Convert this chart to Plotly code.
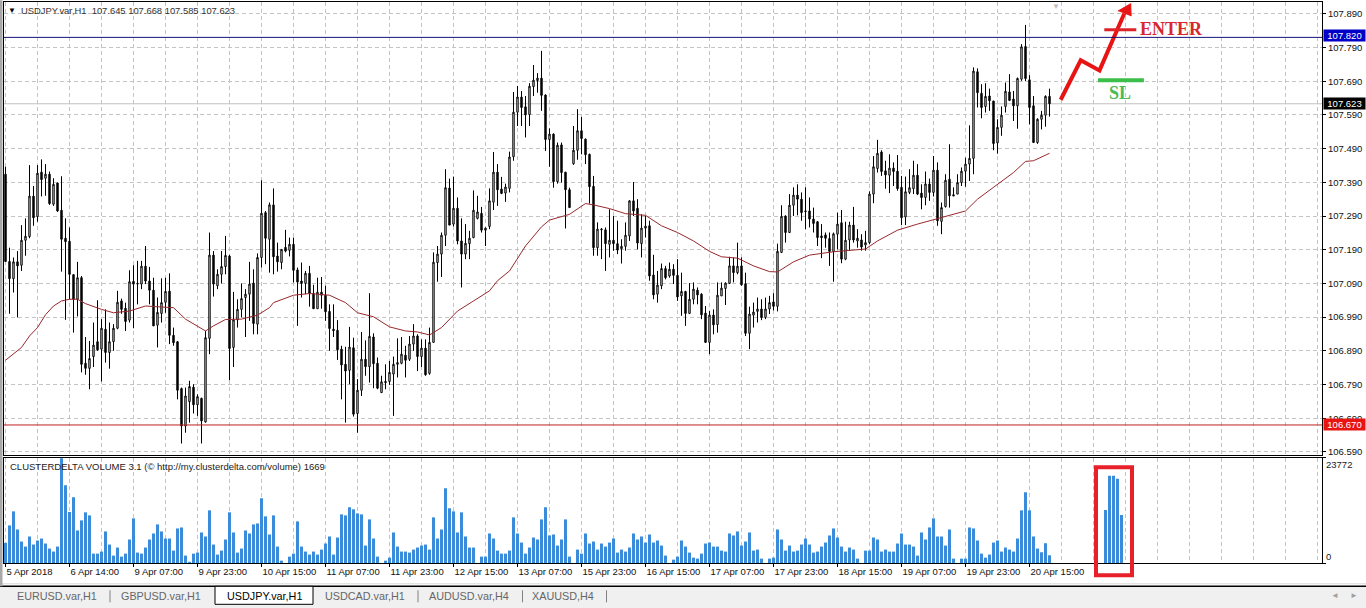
import plotly.graph_objects as go

# candles, one value per H1 bar
opens = [107.414,107.155,107.104,107.154,107.144,107.218,107.229,107.349,107.288,107.420,
107.402,107.414,107.325,107.388,107.307,107.224,107.215,107.116,107.043,107.107,
106.853,106.838,106.873,106.917,106.895,106.954,106.885,106.917,106.957,107.038,
107.016,106.981,107.096,107.088,107.088,107.141,107.097,107.070,106.966,107.001,
107.034,107.067,106.936,106.917,106.778,106.667,106.739,106.782,106.730,106.749,
106.679,106.927,107.174,107.083,107.117,107.140,107.171,106.900,106.982,107.013,
107.048,107.058,107.091,106.969,107.167,107.300,107.221,107.323,107.171,107.152,
107.197,107.188,107.206,107.130,107.097,107.090,107.120,107.060,107.015,107.064,
107.055,107.007,106.954,106.951,106.895,106.850,106.832,106.899,106.704,106.773,
106.865,106.843,106.931,106.853,106.766,106.799,106.799,106.821,106.850,106.853,
106.877,106.865,106.910,106.934,106.873,106.898,106.823,106.915,107.152,107.177,
107.233,107.373,107.266,107.313,107.216,107.177,107.208,107.226,107.283,107.298,
107.248,107.259,107.331,107.420,107.370,107.358,107.372,107.466,107.598,107.643,
107.614,107.591,107.674,107.692,107.699,107.649,107.517,107.533,107.392,107.501,
107.420,107.368,107.445,107.485,107.543,107.518,107.473,107.378,107.196,107.249,
107.249,107.206,107.218,107.208,107.193,107.200,107.231,107.335,107.313,107.208,
107.254,107.261,107.115,107.058,107.083,107.134,107.112,107.132,107.114,107.053,
107.066,107.001,107.043,107.070,107.058,107.002,106.915,106.996,106.968,107.053,
107.075,107.090,107.142,107.122,107.142,107.089,106.942,106.996,107.007,107.014,
106.989,107.014,107.035,107.022,107.182,107.290,107.241,107.322,107.352,107.340,
107.303,107.305,107.281,107.273,107.231,107.234,107.223,107.185,107.236,107.270,
107.162,107.219,107.263,107.216,107.219,107.204,107.211,107.355,107.431,107.480,
107.424,107.411,107.432,107.423,107.375,107.287,107.360,107.371,107.411,107.358,
107.345,107.385,107.360,107.426,107.274,107.318,107.399,107.353,107.355,107.389,
107.423,107.444,107.461,107.718,107.654,107.615,107.646,107.631,107.507,107.553,
107.615,107.658,107.637,107.617,107.696,107.793,107.694,107.617,107.508,107.577,
107.589,107.645]

highs = [107.436,107.196,107.167,107.186,107.263,107.283,107.441,107.379,107.441,107.458,
107.444,107.422,107.402,107.389,107.408,107.283,107.256,107.117,107.154,107.112,
106.931,106.919,106.974,107.040,106.984,107.013,106.974,106.969,107.068,107.045,
107.033,107.129,107.144,107.157,107.157,107.201,107.139,107.107,107.048,107.105,
107.107,107.120,106.959,106.919,106.781,106.781,106.801,106.791,106.761,106.751,
106.949,107.241,107.186,107.132,107.186,107.231,107.175,107.065,107.043,107.090,
107.073,107.154,107.132,107.179,107.396,107.305,107.330,107.372,107.211,107.191,
107.249,107.226,107.226,107.137,107.152,107.127,107.142,107.086,107.107,107.109,
107.083,107.028,107.028,106.981,106.905,106.902,106.961,106.929,106.806,106.946,
106.921,107.061,106.942,106.870,106.816,106.850,106.860,106.873,106.927,106.931,
106.905,106.934,106.969,106.939,106.924,106.924,106.959,107.182,107.201,107.241,
107.429,107.401,107.407,107.345,107.283,107.266,107.246,107.366,107.350,107.317,
107.256,107.372,107.480,107.444,107.406,107.386,107.481,107.658,107.676,107.661,
107.646,107.684,107.738,107.714,107.780,107.651,107.550,107.535,107.508,107.508,
107.421,107.374,107.557,107.607,107.584,107.520,107.475,107.409,107.271,107.254,
107.256,107.310,107.290,107.276,107.221,107.271,107.337,107.391,107.340,107.295,
107.290,107.276,107.175,107.127,107.149,107.142,107.152,107.147,107.162,107.122,
107.068,107.091,107.093,107.078,107.061,107.023,107.008,107.013,107.093,107.093,
107.093,107.169,107.167,107.211,107.167,107.122,107.021,107.033,107.048,107.043,
107.048,107.053,107.061,107.208,107.322,107.292,107.355,107.375,107.384,107.360,
107.375,107.345,107.315,107.274,107.266,107.241,107.241,107.241,107.300,107.308,
107.273,107.273,107.317,107.251,107.236,107.246,107.363,107.468,107.516,107.485,
107.454,107.473,107.449,107.471,107.409,107.407,107.429,107.454,107.444,107.384,
107.422,107.401,107.468,107.449,107.330,107.414,107.503,107.375,107.414,107.434,
107.463,107.559,107.731,107.728,107.681,107.684,107.668,107.632,107.577,107.615,
107.686,107.711,107.661,107.701,107.800,107.857,107.708,107.646,107.580,107.602,
107.648,107.668]

lows = [107.155,107.000,107.063,106.989,107.127,107.172,107.224,107.261,107.273,107.348,
107.350,107.323,107.320,107.302,107.125,106.982,107.043,106.944,106.992,106.826,
106.819,106.776,106.842,106.890,106.799,106.855,106.837,106.890,106.954,107.000,
106.949,106.974,106.957,107.028,107.073,107.088,107.028,106.964,106.900,106.974,
107.003,106.910,106.905,106.746,106.615,106.647,106.677,106.704,106.697,106.615,
106.677,106.880,107.051,107.073,107.090,107.117,106.803,106.842,106.959,106.989,
106.931,106.979,106.939,106.939,107.137,107.147,107.122,107.117,107.125,107.132,
107.182,107.170,107.093,106.964,107.048,107.058,107.021,107.015,107.015,107.015,
106.979,106.890,106.931,106.863,106.746,106.677,106.791,106.695,106.647,106.756,
106.816,106.796,106.779,106.776,106.766,106.776,106.789,106.697,106.811,106.850,
106.811,106.860,106.890,106.830,106.842,106.816,106.819,106.915,107.095,107.109,
107.201,107.263,107.259,107.206,107.078,107.162,107.162,107.224,107.280,107.241,
107.201,107.251,107.308,107.320,107.355,107.332,107.360,107.454,107.557,107.557,
107.523,107.557,107.646,107.656,107.602,107.483,107.436,107.374,107.386,107.389,
107.253,107.315,107.442,107.457,107.473,107.444,107.327,107.172,107.172,107.162,
107.127,107.167,107.187,107.177,107.149,107.187,107.216,107.290,107.191,107.167,
107.226,107.098,107.043,107.033,107.073,107.102,107.107,107.088,107.038,106.994,
106.964,106.999,107.028,107.028,106.984,106.915,106.880,106.939,106.944,107.053,
107.026,107.088,107.093,107.117,107.083,106.934,106.895,106.959,106.974,106.981,
106.984,106.999,107.010,107.007,107.180,107.211,107.241,107.290,107.292,107.276,
107.251,107.256,107.241,107.201,107.165,107.196,107.142,107.095,107.191,107.150,
107.159,107.187,107.211,107.196,107.187,107.187,107.206,107.328,107.419,107.409,
107.371,107.358,107.379,107.365,107.263,107.263,107.355,107.355,107.352,107.310,
107.322,107.335,107.348,107.261,107.236,107.315,107.315,107.350,107.355,107.379,
107.377,107.394,107.414,107.612,107.580,107.597,107.602,107.485,107.475,107.528,
107.597,107.631,107.572,107.549,107.691,107.690,107.562,107.508,107.504,107.547,
107.555,107.585]

closes = [107.155,107.104,107.154,107.142,107.218,107.230,107.349,107.285,107.417,107.398,
107.414,107.327,107.384,107.305,107.221,107.214,107.117,107.043,107.107,106.850,
106.838,106.867,106.907,106.893,106.957,106.885,106.917,106.957,107.034,107.013,
106.977,107.095,107.088,107.090,107.141,107.097,107.070,106.964,107.004,107.033,
107.066,106.936,106.914,106.773,106.667,106.756,106.784,106.730,106.754,106.682,
106.929,107.174,107.088,107.117,107.140,107.173,106.897,106.982,107.013,107.045,
107.058,107.088,106.971,107.167,107.298,107.224,107.323,107.169,107.154,107.191,
107.186,107.206,107.129,107.094,107.090,107.120,107.061,107.015,107.064,107.055,
107.006,106.956,106.950,106.893,106.848,106.830,106.901,106.702,106.773,106.865,
106.843,106.933,106.852,106.779,106.798,106.796,106.826,106.850,106.855,106.880,
106.862,106.910,106.934,106.873,106.898,106.819,106.915,107.153,107.177,107.233,
107.374,107.263,107.313,107.216,107.177,107.209,107.224,107.307,107.302,107.248,
107.254,107.335,107.420,107.368,107.357,107.376,107.465,107.598,107.643,107.612,
107.590,107.675,107.693,107.699,107.648,107.517,107.533,107.392,107.500,107.419,
107.368,107.315,107.485,107.543,107.520,107.472,107.377,107.196,107.251,107.251,
107.208,107.218,107.208,107.189,107.200,107.233,107.335,107.305,107.210,107.254,
107.260,107.112,107.056,107.085,107.134,107.107,107.132,107.114,107.050,107.066,
107.001,107.043,107.073,107.056,106.997,106.915,106.996,106.967,107.055,107.076,
107.091,107.142,107.122,107.141,107.086,106.942,106.999,107.005,107.014,106.989,
107.014,107.033,107.022,107.185,107.289,107.241,107.322,107.352,107.340,107.300,
107.305,107.281,107.268,107.226,107.226,107.224,107.185,107.237,107.266,107.162,
107.218,107.263,107.219,107.224,107.198,107.211,107.355,107.436,107.476,107.422,
107.412,107.432,107.422,107.371,107.285,107.362,107.374,107.411,107.355,107.345,
107.385,107.360,107.426,107.276,107.315,107.396,107.350,107.350,107.389,107.423,
107.444,107.461,107.720,107.656,107.612,107.645,107.632,107.505,107.553,107.589,
107.660,107.633,107.617,107.698,107.792,107.698,107.612,107.508,107.577,107.589,
107.645,107.623]

volumes = [4550,8490,11670,7580,4850,3710,5990,4170,5080,5530,
4400,3260,2580,3710,23650,17590,11520,14860,7350,9630,
11450,10760,2120,2120,2580,7130,4170,1670,3490,1440,
2120,5310,10080,2350,2120,3490,5310,6670,8720,7130,
5530,5530,2800,7810,8030,1670,150,2120,2350,6900,
5990,11900,4170,1900,2800,5310,11450,6900,2350,3260,
7350,6670,8720,8940,14630,10540,6440,10760,3710,530,
0,1440,2120,9400,3710,2580,1900,2580,1900,3030,
4400,5990,1900,5760,10990,10760,12580,12130,11220,10990,
3940,9850,5530,1440,0,530,1210,6900,3710,2580,
2580,2350,3030,3490,3940,4170,3030,10310,5530,7580,
16900,12360,11670,6900,11450,5990,3490,3490,0,1440,
1440,6670,5530,2800,2120,2120,2800,10310,6670,4620,
2120,3490,5760,5310,9850,12580,6220,6440,3940,5310,
9850,1440,0,3030,2120,6670,4400,4850,3030,4400,
3710,4620,5530,2350,3030,2580,3490,6670,5310,5990,
4620,6440,4620,5080,3940,1670,0,760,1440,5080,
3710,2350,1210,990,2120,4400,4620,3710,3710,2800,
2580,6670,6220,7130,3940,4850,6900,2800,3030,990,
0,990,1210,7580,5310,2800,3940,2580,2800,4170,
5530,4170,2350,2580,3710,4620,6220,7810,5760,3710,
2580,3490,3030,990,0,2800,2800,5760,5310,2580,
3030,2580,2580,4400,6670,4170,4170,3710,1670,6900,
5310,8030,10080,5990,5990,3940,7580,990,0,990,
990,8030,7810,5080,2120,1210,1900,4620,5080,2580,
3490,3030,2580,5530,11900,15990,11900,5990,3260,2430,
4470,1740]

# the five bars inside the red box, to the right of the last candle
profile_idx = [275, 276, 277, 278, 279]
profile_vol = [11980, 19710, 19710, 19030, 10840]

# moving average, read at points along the curve
ma_idx = [0,4,6,8,10,12,14,16,18,20,24,27,31,35,39,42,45,50,52,55,59,63,66,67,72,76,81,85,88,92,96,100,103,106,
          109,113,117,121,123,126,130,134,136,141,145,147,151,155,160,164,168,172,176,179,183,187,191,193,197,
          201,207,215,218,223,228,233,240,243,247,252,255,257,261]
ma_val = [106.862,106.900,106.934,106.959,106.997,107.023,107.038,107.043,107.043,107.030,107.013,107.003,107.008,
          107.023,107.020,107.018,106.984,106.949,106.964,106.983,106.984,106.996,107.018,107.033,107.055,107.060,
          107.055,107.033,107.003,106.991,106.961,106.949,106.946,106.937,106.959,107.008,107.038,107.068,107.098,
          107.127,107.201,107.258,107.278,107.295,107.327,107.323,107.312,107.297,107.292,107.261,107.241,107.216,
          107.185,107.169,107.165,107.142,107.125,107.124,107.154,107.174,107.184,107.192,107.216,107.248,107.266,
          107.283,107.305,107.340,107.375,107.419,107.452,107.454,107.476]

price_ticks = [106.59,106.69,106.79,106.89,106.99,107.09,107.19,107.29,107.39,107.49,107.59,107.69,107.79,107.89]
time_idx = [0,16,32,48,64,80,96,112,128,144,160,176,192,208,224,240,256]
time_labels = ["5 Apr 2018","6 Apr 14:00","9 Apr 07:00","9 Apr 23:00","10 Apr 15:00","11 Apr 07:00",
               "11 Apr 23:00","12 Apr 15:00","13 Apr 07:00","15 Apr 23:00","16 Apr 15:00","17 Apr 07:00",
               "17 Apr 23:00","18 Apr 15:00","19 Apr 07:00","19 Apr 23:00","20 Apr 15:00"]
grid_idx = list(range(8, 329, 8))

enter_level = 107.82
stop_level = 106.67
last_price = 107.623

# hand drawn trade idea
path_idx = [263.8, 268.8, 273.5, 279.7]
path_price = [107.635, 107.752, 107.722, 107.891]
head_idx = [278.1, 281.3, 281.4]
head_price = [107.898, 107.920, 107.883]
enter_idx = [274.7, 282.7]
enter_price = [107.843, 107.843]
sl_idx = [273.1, 284.6]
sl_price = [107.693, 107.693]

tabs = ["EURUSD.var,H1","GBPUSD.var,H1","USDJPY.var,H1","USDCAD.var,H1","AUDUSD.var,H4","XAUUSD,H4"]
tab_centers = [57, 161, 264, 365, 469, 563]
tab_seps = [110, 418, 522.5, 606.5]

assert len(opens) == len(highs) == len(lows) == len(closes) == len(volumes)
bars = list(range(len(opens)))

# plot box in window pixels, 4 px per bar with bar 0 on a pixel centre
L, R, T, B = 4, 1322, 1.7, 562.7
FONT = "Liberation Sans"
GRID = "#C4C4C4"


def px(x):
    return (x - L) / (R - L)


def py(y):
    return (B - y) / (B - T)


fig = go.Figure()

fig.add_trace(go.Candlestick(x=bars, open=opens, high=highs, low=lows, close=closes,
                             increasing=dict(line=dict(color="black", width=1), fillcolor="white"),
                             decreasing=dict(line=dict(color="black", width=1), fillcolor="black"),
                             whiskerwidth=0, xaxis="x", yaxis="y"))
fig.add_trace(go.Scatter(x=ma_idx, y=ma_val, mode="lines", line=dict(color="#96282D", width=1),
                         xaxis="x", yaxis="y"))
fig.add_trace(go.Scatter(x=path_idx, y=path_price, mode="lines", line=dict(color="#E81414", width=4),
                         xaxis="x", yaxis="y"))
fig.add_trace(go.Scatter(x=head_idx, y=head_price, mode="lines", fill="toself", fillcolor="#E81414",
                         line=dict(color="#E81414", width=1), xaxis="x", yaxis="y"))
fig.add_trace(go.Scatter(x=enter_idx, y=enter_price, mode="lines", line=dict(color="#DC2328", width=3),
                         xaxis="x", yaxis="y"))
fig.add_trace(go.Scatter(x=sl_idx, y=sl_price, mode="lines", line=dict(color="#3CBE4B", width=4),
                         xaxis="x", yaxis="y"))
fig.add_trace(go.Bar(x=bars, y=volumes, marker=dict(color="#3A8CDB", line=dict(width=0)),
                     xaxis="x2", yaxis="y2"))
fig.add_trace(go.Bar(x=profile_idx, y=profile_vol, marker=dict(color="#3A8CDB", line=dict(width=0)),
                     xaxis="x2", yaxis="y2"))

x_range = [(L - 5.5) / 4, (R - 5.5) / 4]
grid_minor = dict(tickmode="array", tickvals=grid_idx, showgrid=True, griddash="4px,3px", gridcolor=GRID,
                  gridwidth=1, ticks="")

fig.update_layout(
    width=1366, height=608, autosize=False,
    margin=dict(l=L, r=1366 - R, t=T, b=608 - B, pad=0),
    paper_bgcolor="white", plot_bgcolor="white", showlegend=False, hovermode=False,
    bargap=0.25, barmode="overlay", boxgap=0.5,
    font=dict(family=FONT, size=9.5, color="#111111"),
    xaxis=dict(domain=[0, 1], range=x_range, anchor="y", rangeslider=dict(visible=False),
               tickmode="array", tickvals=time_idx, ticktext=[""] * len(time_idx), ticks="",
               showgrid=True, griddash="4px,3px", gridcolor=GRID, minor=grid_minor,
               showline=True, linecolor="black", linewidth=1, mirror=True, zeroline=False),
    yaxis=dict(domain=[py(455), 1], range=[106.58, 107.925], side="right", anchor="x",
               tickmode="array", tickvals=price_ticks, tickformat=".3f", ticks="outside", ticklen=3,
               tickcolor="black", showgrid=True, griddash="4px,3px", gridcolor=GRID,
               showline=True, linecolor="black", linewidth=1, mirror=True, zeroline=False),
    xaxis2=dict(domain=[0, 1], range=x_range, anchor="y2",
                tickmode="array", tickvals=time_idx, ticktext=time_labels, ticks="outside", ticklen=3,
                tickcolor="black", tickangle=0, ticklabelposition="outside right",
                showgrid=True, griddash="4px,3px", gridcolor=GRID, minor=grid_minor,
                showline=True, linecolor="black", linewidth=1, mirror=True, zeroline=False),
    yaxis2=dict(domain=[0, py(457.5)], range=[0, 23772], side="right", anchor="x2",
                tickmode="array", tickvals=[0, 23772], showticklabels=False, ticks="outside", ticklen=3,
                tickcolor="black", showgrid=False,
                showline=True, linecolor="black", linewidth=1, mirror=True, zeroline=False),
)

for level, color in [(enter_level, "#14147A"), (stop_level, "#C02020"), (last_price, "#C0C0C0")]:
    fig.add_shape(type="line", xref="paper", yref="y", x0=0, x1=1, y0=level, y1=level,
                  line=dict(color=color, width=1), layer="above" if level != last_price else "below")

# red box round the last bars
fig.add_shape(type="rect", xref="paper", yref="paper", x0=px(1096), x1=px(1132), y0=py(467), y1=py(575),
              line=dict(color="#E8202A", width=4), fillcolor="rgba(0,0,0,0)", layer="above")

# window chrome under the chart
fig.add_shape(type="rect", xref="paper", yref="paper", x0=px(0), x1=px(1366), y0=py(586), y1=py(608),
              line=dict(width=0), fillcolor="#F0F0F0", layer="below")
fig.add_shape(type="line", xref="paper", yref="paper", x0=px(0), x1=px(1366), y0=py(586), y1=py(586),
              line=dict(color="black", width=1.5))
fig.add_shape(type="line", xref="paper", yref="paper", x0=px(0), x1=px(1366), y0=py(583.5), y1=py(583.5),
              line=dict(color="#D8D8D8", width=1))
fig.add_shape(type="rect", xref="paper", yref="paper", x0=px(0), x1=px(2.5), y0=py(0), y1=py(586),
              line=dict(width=0), fillcolor="#A8A8A8")
fig.add_shape(type="rect", xref="paper", yref="paper", x0=px(215), x1=px(313), y0=py(586), y1=py(604),
              line=dict(color="black", width=1), fillcolor="white")
for sx in tab_seps:
    fig.add_shape(type="line", xref="paper", yref="paper", x0=px(sx), x1=px(sx), y0=py(590), y1=py(602),
                  line=dict(color="#808080", width=1))


def note(x, y, text, size=9.5, color="#222222", anchor="left", family=FONT, bold=False, **kw):
    label = f"<b>{text}</b>" if bold else text
    fig.add_annotation(xref="paper", yref="paper", x=px(x), y=py(y), text=label, showarrow=False,
                       xanchor=anchor, yanchor="middle", font=dict(family=family, size=size, color=color),
                       borderpad=0, **kw)


note(7, 10, "▼", size=8, color="black")
note(20, 10, "USDJPY.var,H1  107.645 107.668 107.585 107.623", size=9.4, color="#333333")
note(9, 466, "CLUSTERDELTA VOLUME 3.1 (© http://my.clusterdelta.com/volume) 1669", color="#222222")
note(1325, 464, "23772")
note(1325, 556, "0")
note(1056, 6, "▼", size=8, color="#BDBDBD", anchor="center")
note(1139, 29, "ENTER", size=18, color="#D7282F", family="Liberation Serif", bold=True)
note(1120, 93, "SL", size=18, color="#4CBB55", anchor="center", family="Liberation Serif", bold=True)

for text, y, bg in [("107.820", 35.7, "#0000C8"), ("107.623", 103.5, "#000000"), ("106.670", 424.3, "#E81414")]:
    note(1323, y, text, color="white", bgcolor=bg, width=41, height=11, align="center")

for name, cx in zip(tabs, tab_centers):
    note(cx, 596, name, size=10.8, color="black" if name == "USDJPY.var,H1" else "#666666", anchor="center")
note(1335, 595, "◄", size=8, color="#A0A0A0", anchor="center")
note(1354, 595, "►", size=8, color="#A0A0A0", anchor="center")

fig.write_html("out.html", config={"displayModeBar": False},
               post_script="document.body.style.margin='0';document.body.style.overflow='hidden';")
